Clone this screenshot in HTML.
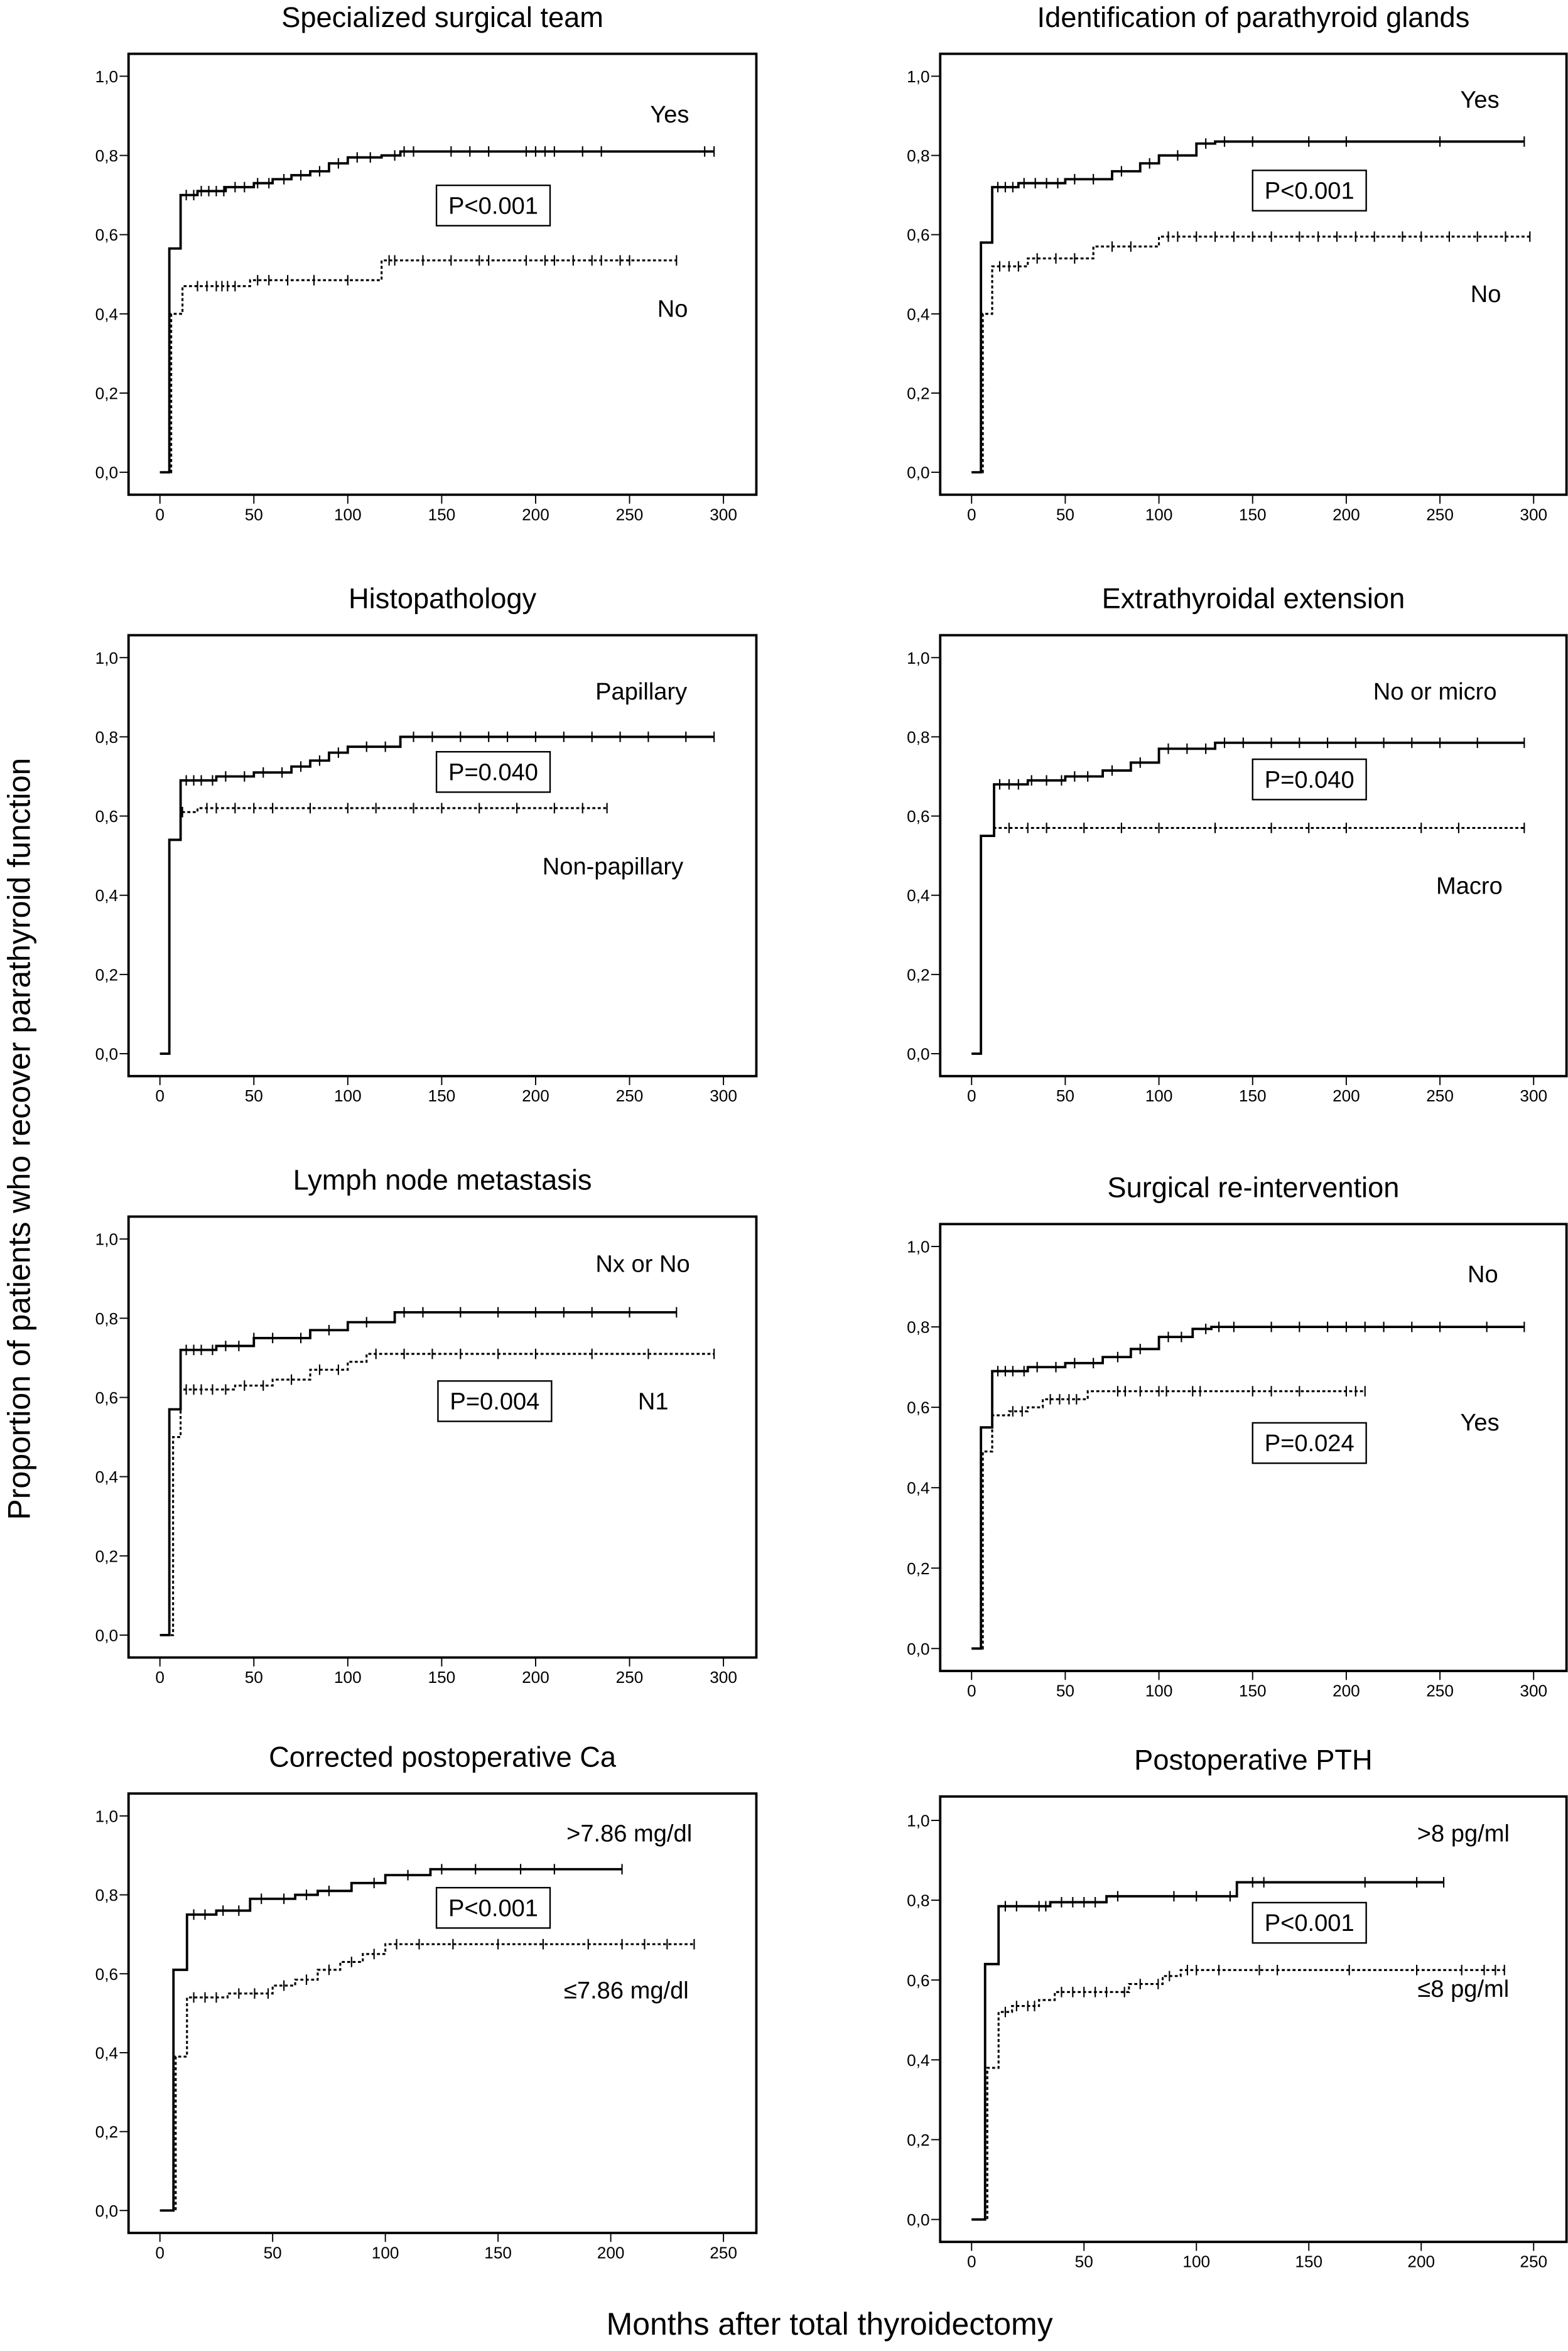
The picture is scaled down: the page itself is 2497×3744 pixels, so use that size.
<!DOCTYPE html>
<html><head><meta charset="utf-8"><style>
html,body{margin:0;padding:0;background:#fff}
svg{display:block}
text{font-family:"Liberation Sans",sans-serif;fill:#000}
</style></head><body>
<svg id="fig" width="2497" height="3744" viewBox="0 0 1049 1573" preserveAspectRatio="none" xmlns="http://www.w3.org/2000/svg">
<text x="20" y="762" font-size="21" text-anchor="middle" transform="rotate(-90 20 762)">Proportion of patients who recover parathyroid function</text>
<text x="555" y="1562" font-size="21" text-anchor="middle">Months after total thyroidectomy</text>
</svg>
<script>
// ---- data (time, proportion) step points, censor times, end times ----
const p1YesT=[0,5,11,20,35,50,60,70,80,90,100,118,128]; const p1YesS=[0,0.565,0.70,0.71,0.72,0.73,0.74,0.75,0.76,0.78,0.795,0.80,0.81]; const p1YesC=[14,18,22,26,30,34,40,45,52,58,66,75,85,95,105,112,125,130,135,155,165,175,195,200,205,210,225,235,290,295];
const p1NoT=[0,6,12,48,118]; const p1NoS=[0,0.40,0.47,0.485,0.535]; const p1NoC=[20,25,30,33,36,40,52,58,68,82,100,122,125,140,155,170,175,195,205,210,220,230,235,245,250,275];
const p2YesT=[0,5,11,25,50,75,90,100,120,130]; const p2YesS=[0,0.58,0.72,0.73,0.74,0.76,0.78,0.80,0.83,0.835]; const p2YesC=[14,18,22,28,34,40,46,55,65,80,95,110,125,135,150,180,200,250,295];
const p2NoT=[0,6,11,30,65,100]; const p2NoS=[0,0.40,0.52,0.54,0.57,0.595]; const p2NoC=[15,20,25,35,45,55,75,85,105,110,120,130,140,150,160,175,185,195,205,215,230,240,255,270,285,298];
const p3PapT=[0,5,11,30,50,70,80,90,100,128]; const p3PapS=[0,0.54,0.69,0.70,0.71,0.725,0.74,0.76,0.775,0.80]; const p3PapC=[14,18,22,28,35,45,55,65,75,85,95,110,120,135,145,160,175,185,200,215,230,245,260,280,295];
const p3NonT=[0,5,11,20]; const p3NonS=[0,0.54,0.61,0.62]; const p3NonC=[12,25,30,40,50,60,80,100,115,135,150,170,190,210,225,238];
const p4NoT=[0,5,12,30,50,70,85,100,130]; const p4NoS=[0,0.55,0.68,0.69,0.70,0.715,0.735,0.77,0.785]; const p4NoC=[15,20,25,32,40,48,55,62,75,90,105,115,125,135,145,160,175,190,205,220,235,250,270,295];
const p4MacT=[0,5,12]; const p4MacS=[0,0.55,0.57]; const p4MacC=[20,30,40,60,80,100,130,160,180,200,240,260,295];
const p5NxT=[0,5,11,30,50,80,100,125]; const p5NxS=[0,0.57,0.72,0.73,0.75,0.77,0.79,0.815]; const p5NxC=[14,18,22,28,35,42,50,60,75,90,110,130,140,160,180,200,215,230,250,275];
const p5N1T=[0,7,11,40,60,80,100,110]; const p5N1S=[0,0.50,0.62,0.63,0.645,0.67,0.69,0.71]; const p5N1C=[14,18,22,28,35,45,55,70,85,95,115,130,145,160,180,200,230,260,295];
const p6NoT=[0,5,11,30,50,70,85,100,118,128]; const p6NoS=[0,0.55,0.69,0.70,0.71,0.725,0.745,0.775,0.795,0.80]; const p6NoC=[14,18,22,28,35,45,55,65,78,90,105,112,125,132,140,160,175,190,200,210,220,235,250,275,295];
const p6YesT=[0,6,11,20,30,38,62]; const p6YesS=[0,0.49,0.58,0.59,0.60,0.62,0.64]; const p6YesC=[22,27,42,47,52,56,78,82,90,100,104,118,122,150,160,175,200,205,210];
const p7HiT=[0,6,12,25,40,60,70,85,100,120]; const p7HiS=[0,0.61,0.75,0.76,0.79,0.80,0.81,0.83,0.85,0.865]; const p7HiC=[15,20,28,35,45,55,65,75,95,110,125,140,160,175,205];
const p7LoT=[0,7,12,30,50,60,70,80,90,100]; const p7LoS=[0,0.39,0.54,0.55,0.57,0.585,0.61,0.63,0.65,0.675]; const p7LoC=[15,20,25,35,42,48,55,65,75,85,95,105,115,130,150,170,190,205,215,225,237];
const p8HiT=[0,6,12,35,60,118]; const p8HiS=[0,0.64,0.785,0.795,0.81,0.845]; const p8HiC=[15,20,30,33,40,45,50,55,65,90,100,115,125,130,175,198,210];
const p8LoT=[0,7,12,18,30,37,70,85,93]; const p8LoS=[0,0.38,0.52,0.535,0.55,0.57,0.59,0.61,0.625]; const p8LoC=[15,20,25,28,40,45,50,55,60,68,75,83,88,96,100,110,128,136,168,198,218,228,233,237];
const xTicks300=[0,50,100,150,200,250,300]; const xTicks250=[0,50,100,150,200,250];
const yTicks=[0,0.2,0.4,0.6,0.8,1.0]; const yTickLabels=["0,0","0,2","0,4","0,6","0,8","1,0"];
const titles=["Specialized surgical team","Identification of parathyroid glands","Histopathology","Extrathyroidal extension","Lymph node metastasis","Surgical re-intervention","Corrected  postoperative Ca","Postoperative PTH"];
const pvals=["P<0.001","P<0.001","P=0.040","P=0.040","P=0.004","P=0.024","P<0.001","P<0.001"];
const solidLab=["Yes","Yes","Papillary","No or micro","Nx or No","No",">7.86 mg/dl",">8 pg/ml"];
const dotLab=["No","No","Non-papillary","Macro","N1","Yes","≤7.86 mg/dl","≤8 pg/ml"];
const solidSeries=[[p1YesT,p1YesS,p1YesC],[p2YesT,p2YesS,p2YesC],[p3PapT,p3PapS,p3PapC],[p4NoT,p4NoS,p4NoC],[p5NxT,p5NxS,p5NxC],[p6NoT,p6NoS,p6NoC],[p7HiT,p7HiS,p7HiC],[p8HiT,p8HiS,p8HiC]];
const dotSeries=[[p1NoT,p1NoS,p1NoC],[p2NoT,p2NoS,p2NoC],[p3NonT,p3NonS,p3NonC],[p4MacT,p4MacS,p4MacC],[p5N1T,p5N1S,p5N1C],[p6YesT,p6YesS,p6YesC],[p7LoT,p7LoS,p7LoC],[p8LoT,p8LoS,p8LoC]];
// layout (preview units)
const rowsL=[[36,51,316,331],[425,440,705,720],[814,829,1094,1109],[1200,1215,1479,1494]];
const rowsR=[[36,51,316,331],[425,440,705,720],[819,834,1103,1118],[1202,1218,1485,1500]];
const sLabPos=[[448,82],[990,72],[429,468],[960,468],[430,851],[992,858],[421,1232],[979,1232]];
const dLabPos=[[450,212],[994,202],[410,585],[983,598],[437,943],[990,957],[419,1337],[979,1336]];
const pPos=[[330,137],[876,127],[330,516],[876,521],[331,937],[876,965],[330,1276],[876,1286]];

const NS="http://www.w3.org/2000/svg";
const svg=document.getElementById('fig');
function mk(tag,attrs,parent){const e=document.createElementNS(NS,tag);for(const k in attrs)e.setAttribute(k,attrs[k]);(parent||svg).appendChild(e);return e;}

for(let i=0;i<8;i++){
  const right=i%2===1, r=Math.floor(i/2);
  const rw=(right?rowsR:rowsL)[r];
  const bx0=right?629:86, bx1=right?1048:506;
  const px0=right?650:107, px1=right?1026:484;
  const ticks=(r===3)?xTicks250:xTicks300;
  const xmax=ticks[ticks.length-1];
  const X=t=>px0+(px1-px0)*t/xmax;
  const Y=s=>rw[2]+(rw[1]-rw[2])*s;
  const g=mk('g',{});
  
  
  const tt=mk('text',{x:(bx0+bx1)/2,y:rw[0]-18,'font-size':19,'text-anchor':'middle'},g);
  tt.textContent=titles[i];
  
  
  const box=mk('rect',{x:bx0,y:rw[0],width:bx1-bx0,height:rw[3]-rw[0],fill:'none',stroke:'#000','stroke-width':1.6},g);
  
  
  yTicks.forEach((v,k)=>{
    mk('line',{x1:bx0-6,x2:bx0,y1:Y(v),y2:Y(v),stroke:'#000','stroke-width':0.8},g);
    const t=mk('text',{x:bx0-7,y:Y(v)+4,'font-size':11,'text-anchor':'end'},g);
    t.textContent=yTickLabels[k];
    
    
  });
  ticks.forEach(v=>{
    mk('line',{x1:X(v),x2:X(v),y1:rw[3],y2:rw[3]+6,stroke:'#000','stroke-width':0.8},g);
    const t=mk('text',{x:X(v),y:rw[3]+17,'font-size':11,'text-anchor':'middle'},g);
    t.textContent=v;
    
    
  });
  [[solidSeries[i],false],[dotSeries[i],true]].forEach(([ser,dot])=>{
    const T=ser[0],S=ser[1],C=ser[2];
    const tEnd=C[C.length-1];
    let d='M'+X(0)+','+Y(S[0]);
    for(let k=1;k<T.length;k++){d+=' H'+X(T[k])+' V'+Y(S[k]);}
    d+=' H'+X(tEnd);
    const p=mk('path',{d:d,fill:'none',stroke:'#000','stroke-width':dot?1.3:1.6,'stroke-dasharray':dot?'2,1.6':'none'},g);
    
    
    const sAt=t=>{let s=S[0];for(let k=0;k<T.length;k++)if(T[k]<=t)s=S[k];return s;};
    C.forEach(c=>{
      const cm=mk('line',{x1:X(c),x2:X(c),y1:Y(sAt(c))-3.5,y2:Y(sAt(c))+3.5,stroke:'#000','stroke-width':0.9},g);
      
      
    });
  });
  const sl=mk('text',{x:sLabPos[i][0],y:sLabPos[i][1],'font-size':16,'text-anchor':'middle'},g);
  sl.textContent=solidLab[i];
  
  
  const dl=mk('text',{x:dLabPos[i][0],y:dLabPos[i][1],'font-size':16,'text-anchor':'middle'},g);
  dl.textContent=dotLab[i];
  
  
  const pb=mk('rect',{x:pPos[i][0]-38,y:pPos[i][1]-13,width:76,height:27,fill:'#fff',stroke:'#000','stroke-width':1},g);
  
  
  const pt=mk('text',{x:pPos[i][0],y:pPos[i][1]+6,'font-size':16,'text-anchor':'middle'},g);
  pt.textContent=pvals[i];
  
  
}
</script>
</body></html>
